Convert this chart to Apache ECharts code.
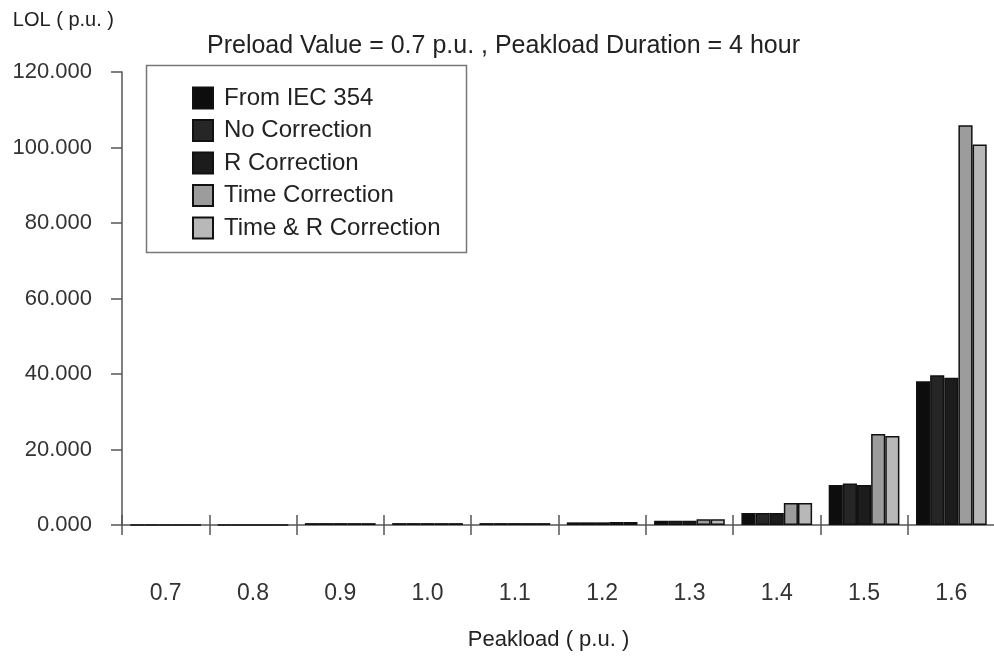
<!DOCTYPE html>
<html><head><meta charset="utf-8">
<script src="https://cdn.jsdelivr.net/npm/echarts@6/dist/echarts.min.js"></script>
<style>html,body{margin:0;padding:0;background:#fff}#c{width:994px;height:658px}</style>
</head><body><div id="c"></div>
<script>
const categories = ['0.7','0.8','0.9','1.0','1.1','1.2','1.3','1.4','1.5','1.6'];
const fromIEC   = [0, 0, 0.5, 0.5, 0.5, 0.7, 1.1, 3.2, 10.6, 38.1];
const noCorr    = [0, 0, 0.5, 0.5, 0.5, 0.7, 1.1, 3.2, 11.0, 39.7];
const rCorr     = [0, 0, 0.5, 0.5, 0.5, 0.7, 1.1, 3.2, 10.6, 39.0];
const timeCorr  = [0, 0, 0.5, 0.5, 0.5, 0.8, 1.5, 5.8, 24.1, 105.9];
const timeRCorr = [0, 0, 0.5, 0.5, 0.5, 0.8, 1.5, 5.8, 23.6, 100.8];
const seriesNames = ['From IEC 354','No Correction','R Correction','Time Correction','Time & R Correction'];
const yTicks = [0, 20, 40, 60, 80, 100, 120];

const FONT = '"Liberation Sans", Arial, sans-serif';
const fills = ['#0d0d0d', '#262626', '#1c1c1c', '#9c9c9c', '#b8b8b8'];
const dataSets = [fromIEC, noCorr, rCorr, timeCorr, timeRCorr];

const chart = echarts.init(document.getElementById('c'), null, {renderer:'canvas'});
const axisColor = '#555';
chart.setOption({
  animation: false,
  backgroundColor: '#fff',
  textStyle: {fontFamily: FONT},
  title: {
    text: 'Preload Value = 0.7 p.u. , Peakload Duration = 4 hour',
    left: 207, top: 34, padding: 0,
    textStyle: {fontFamily: FONT, fontSize: 25, fontWeight: 'normal', color: '#222'}
  },
  grid: {left: 122, right: -1, top: 72, bottom: 133, containLabel: false, outerBoundsMode: 'none'},
  legend: {
    orient: 'vertical', left: 192, top: 86, padding: 0,
    itemWidth: 20, itemHeight: 21, itemGap: 8.5,
    icon: 'rect',
    data: seriesNames,
    textStyle: {fontFamily: FONT, fontSize: 24, color: '#222', padding: [0,0,0,6]}
  },
  graphic: [{
    type: 'rect', shape: {x: 146.5, y: 65.5, width: 320, height: 187},
    style: {fill: 'none', stroke: '#777', lineWidth: 1.5}, z: 0
  }],
  xAxis: [{
    type: 'category', data: categories, position: 'bottom',
    axisLine: {lineStyle: {color: axisColor, width: 1.5}},
    axisTick: {show: true, length: 10, lineStyle: {color: axisColor, width: 1.5}},
    axisLabel: {margin: 57, fontSize: 23, color: '#333', fontFamily: FONT},
    name: 'Peakload ( p.u. )', nameLocation: 'middle', nameGap: 104,
    nameTextStyle: {fontSize: 22, color: '#222', fontFamily: FONT, padding: [0, 20, 0, 0]}
  }, {
    type: 'category', data: categories, position: 'bottom', offset: 0,
    axisLine: {show: false},
    axisTick: {show: true, inside: true, length: 10, lineStyle: {color: axisColor, width: 1.5}},
    axisLabel: {show: false}
  }],
  yAxis: {
    type: 'value', min: 0, max: 120, interval: 20,
    axisLine: {show: true, lineStyle: {color: axisColor, width: 1.5}},
    axisTick: {show: true, length: 11, lineStyle: {color: axisColor, width: 1.5}},
    splitLine: {show: false},
    axisLabel: {margin: 30, fontSize: 22, color: '#333', fontFamily: FONT,
      formatter: v => yTicks.includes(v) ? v.toFixed(3) : ''},
    name: 'LOL ( p.u. )', nameLocation: 'end', nameGap: 42,
    nameTextStyle: {fontSize: 20, color: '#222', fontFamily: FONT, align: 'right', padding: [0, 8, 0, 0]}
  },
  series: seriesNames.map((n, i) => ({
    name: n, type: 'bar', xAxisIndex: 0, data: dataSets[i],
    barGap: '0%', barCategoryGap: '19%',
    itemStyle: {color: fills[i], borderColor: '#111', borderWidth: 1.5}
  }))
});
</script></body></html>
